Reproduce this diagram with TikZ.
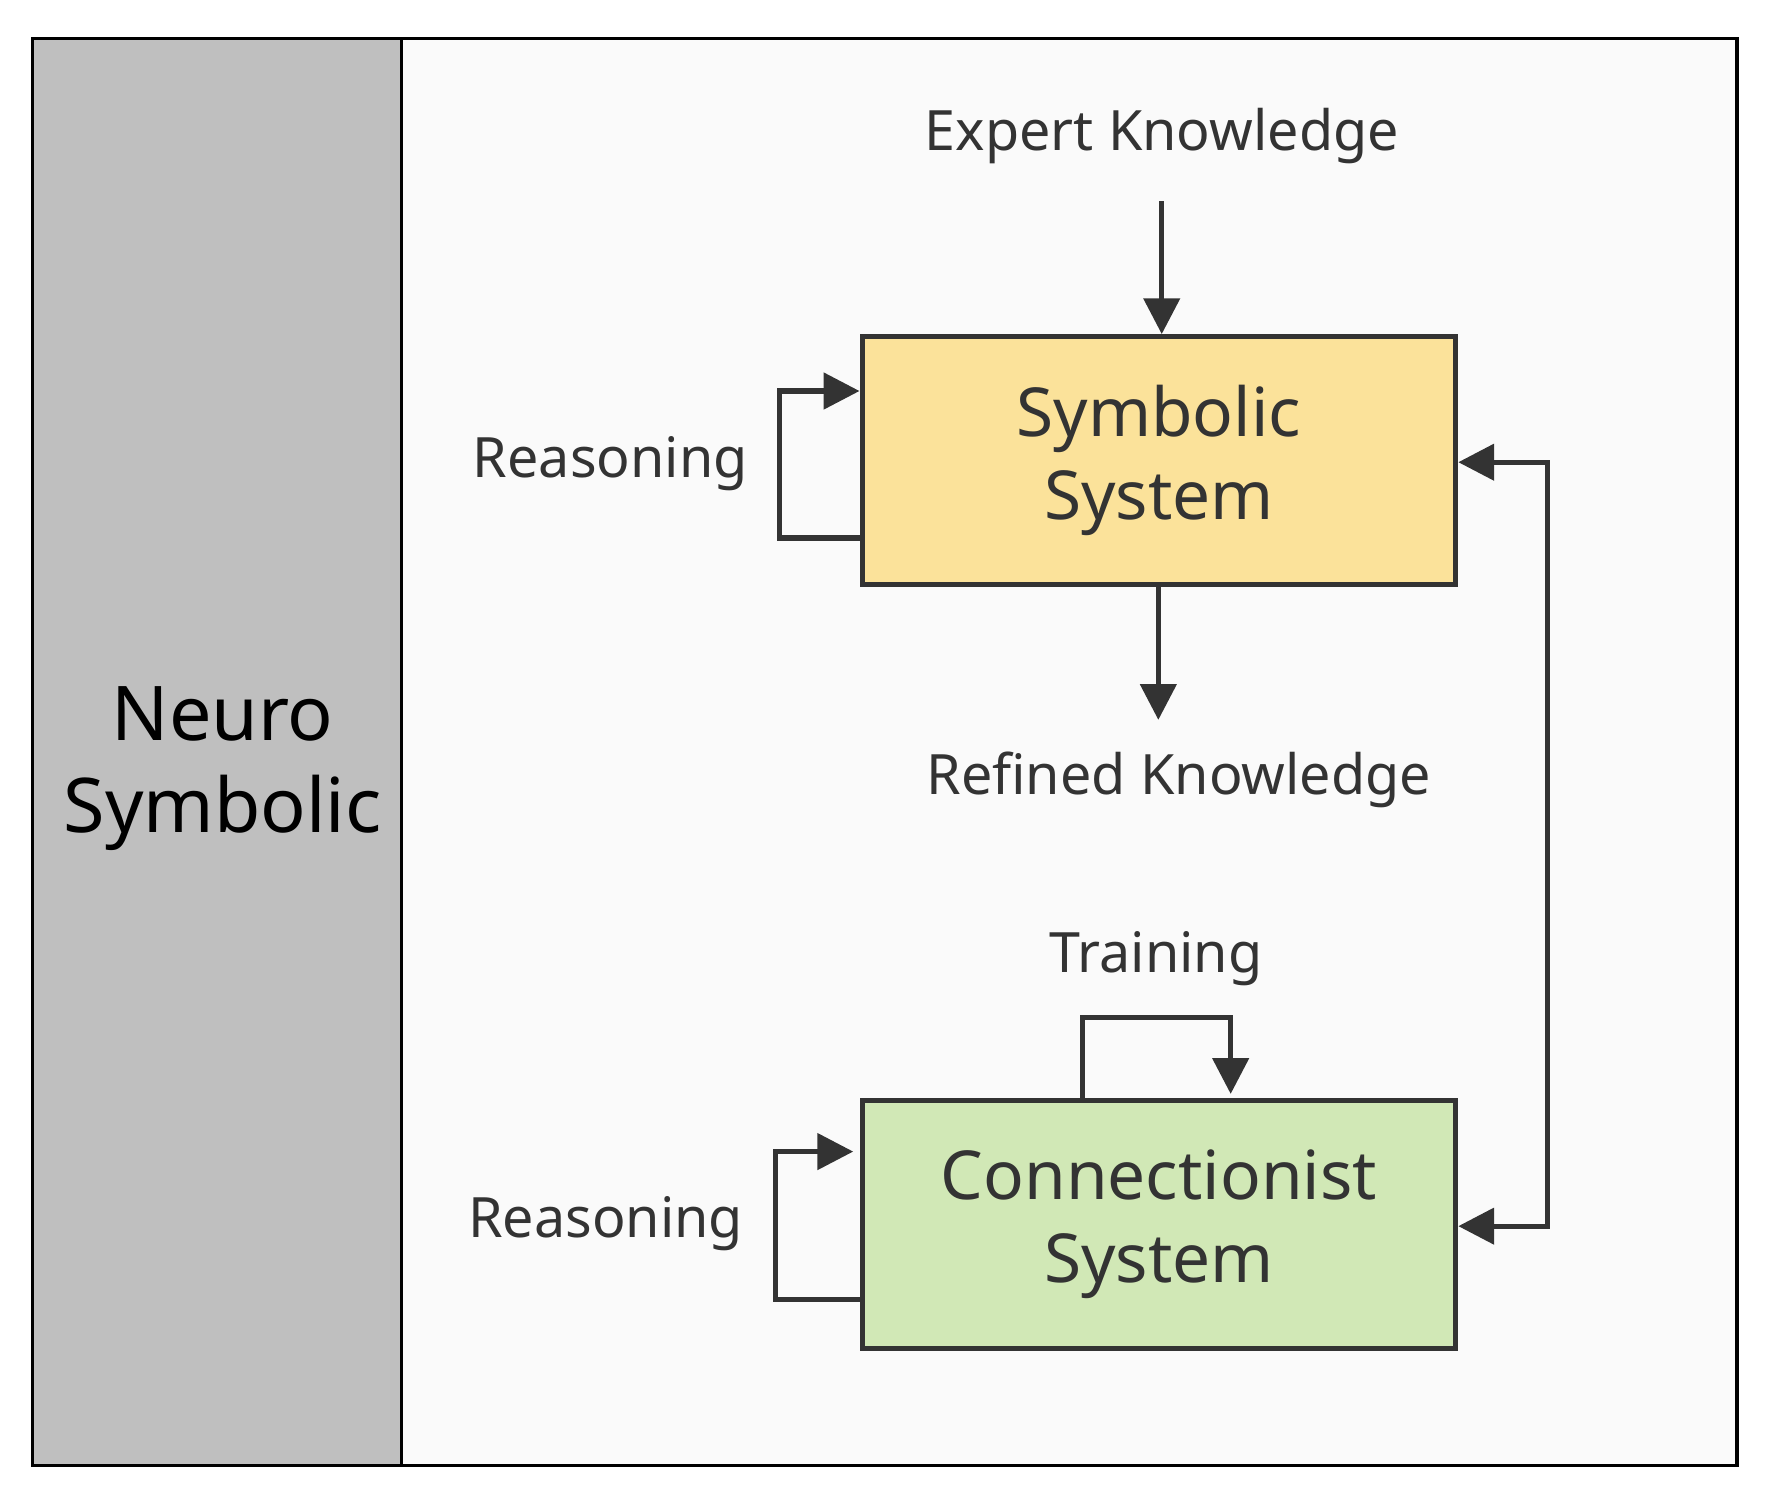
\documentclass[tikz,border=0pt]{standalone}
\usepackage{fontspec}
\setmainfont{Noto Sans}
\usetikzlibrary{arrows.meta}
\definecolor{lc}{HTML}{333333}
\begin{document}
\begin{tikzpicture}[x=0.01cm,y=-0.01cm,
  box/.style={draw=lc,line width=1.3pt,minimum width=5.25cm,minimum height=2.19cm,align=center,font=\fontsize{17}{21}\selectfont,text=lc},
  lbl/.style={font=\fontsize{14}{17}\selectfont,text=lc},
  arr/.style={draw=lc,line width=1.3pt,-{Triangle[length=9pt,width=9pt]}},
  ln/.style={draw=lc,line width=1.3pt}]
\useasboundingbox (0,0) rectangle (1568,1324);
\fill[white] (0,0) rectangle (1568,1324);
\draw[fill=black!25,line width=0.8pt] (29,34) rectangle (355,1297);
\draw[fill=black!2,line width=0.8pt] (355,34) rectangle (1537,1297);
\node[font=\fontsize{19}{23}\selectfont,align=center] (ns) at (197,680) {Neuro\\Symbolic};
\node[box,fill={rgb,255:red,251;green,226;blue,154}] (sym) at (1025.5,407.5) {Symbolic\\System};
\node[box,fill={rgb,255:red,209;green,232;blue,182}] (con) at (1025.5,1083.5) {Connectionist\\System};
\node[lbl] (ek) at (1028,120) {Expert Knowledge};
\node[lbl] (rk) at (1043,690) {Refined Knowledge};
\node[lbl] (r1) at (540,410) {Reasoning};
\node[lbl] (r2) at (536,1083) {Reasoning};
\node[lbl] (tr) at (1023,848) {Training};
\coordinate (ea) at (1028,178);
\coordinate (rb) at (1025,637);
\draw[arr] (ea) -- (sym.north -| ea);
\draw[arr] (sym.south -| rb) -- (rb);
\draw[arr] (sym.west |- 0,476) -- (690,476) -- (690,346) -- (sym.west |- 0,346);
\draw[arr] (con.west |- 0,1150) -- (686,1150) -- (686,1019) -- (755,1019);
\draw[arr] (con.north -| 958,0) -- (958,900) -- (1089,900) -- (1089,968);
\draw[draw=lc,line width=1.3pt,{Triangle[length=9pt,width=9pt]}-{Triangle[length=9pt,width=9pt]}] (sym.east |- 0,409) -- (1369,409) -- (1369,1085) -- (con.east |- 0,1085);
\end{tikzpicture}
\end{document}
